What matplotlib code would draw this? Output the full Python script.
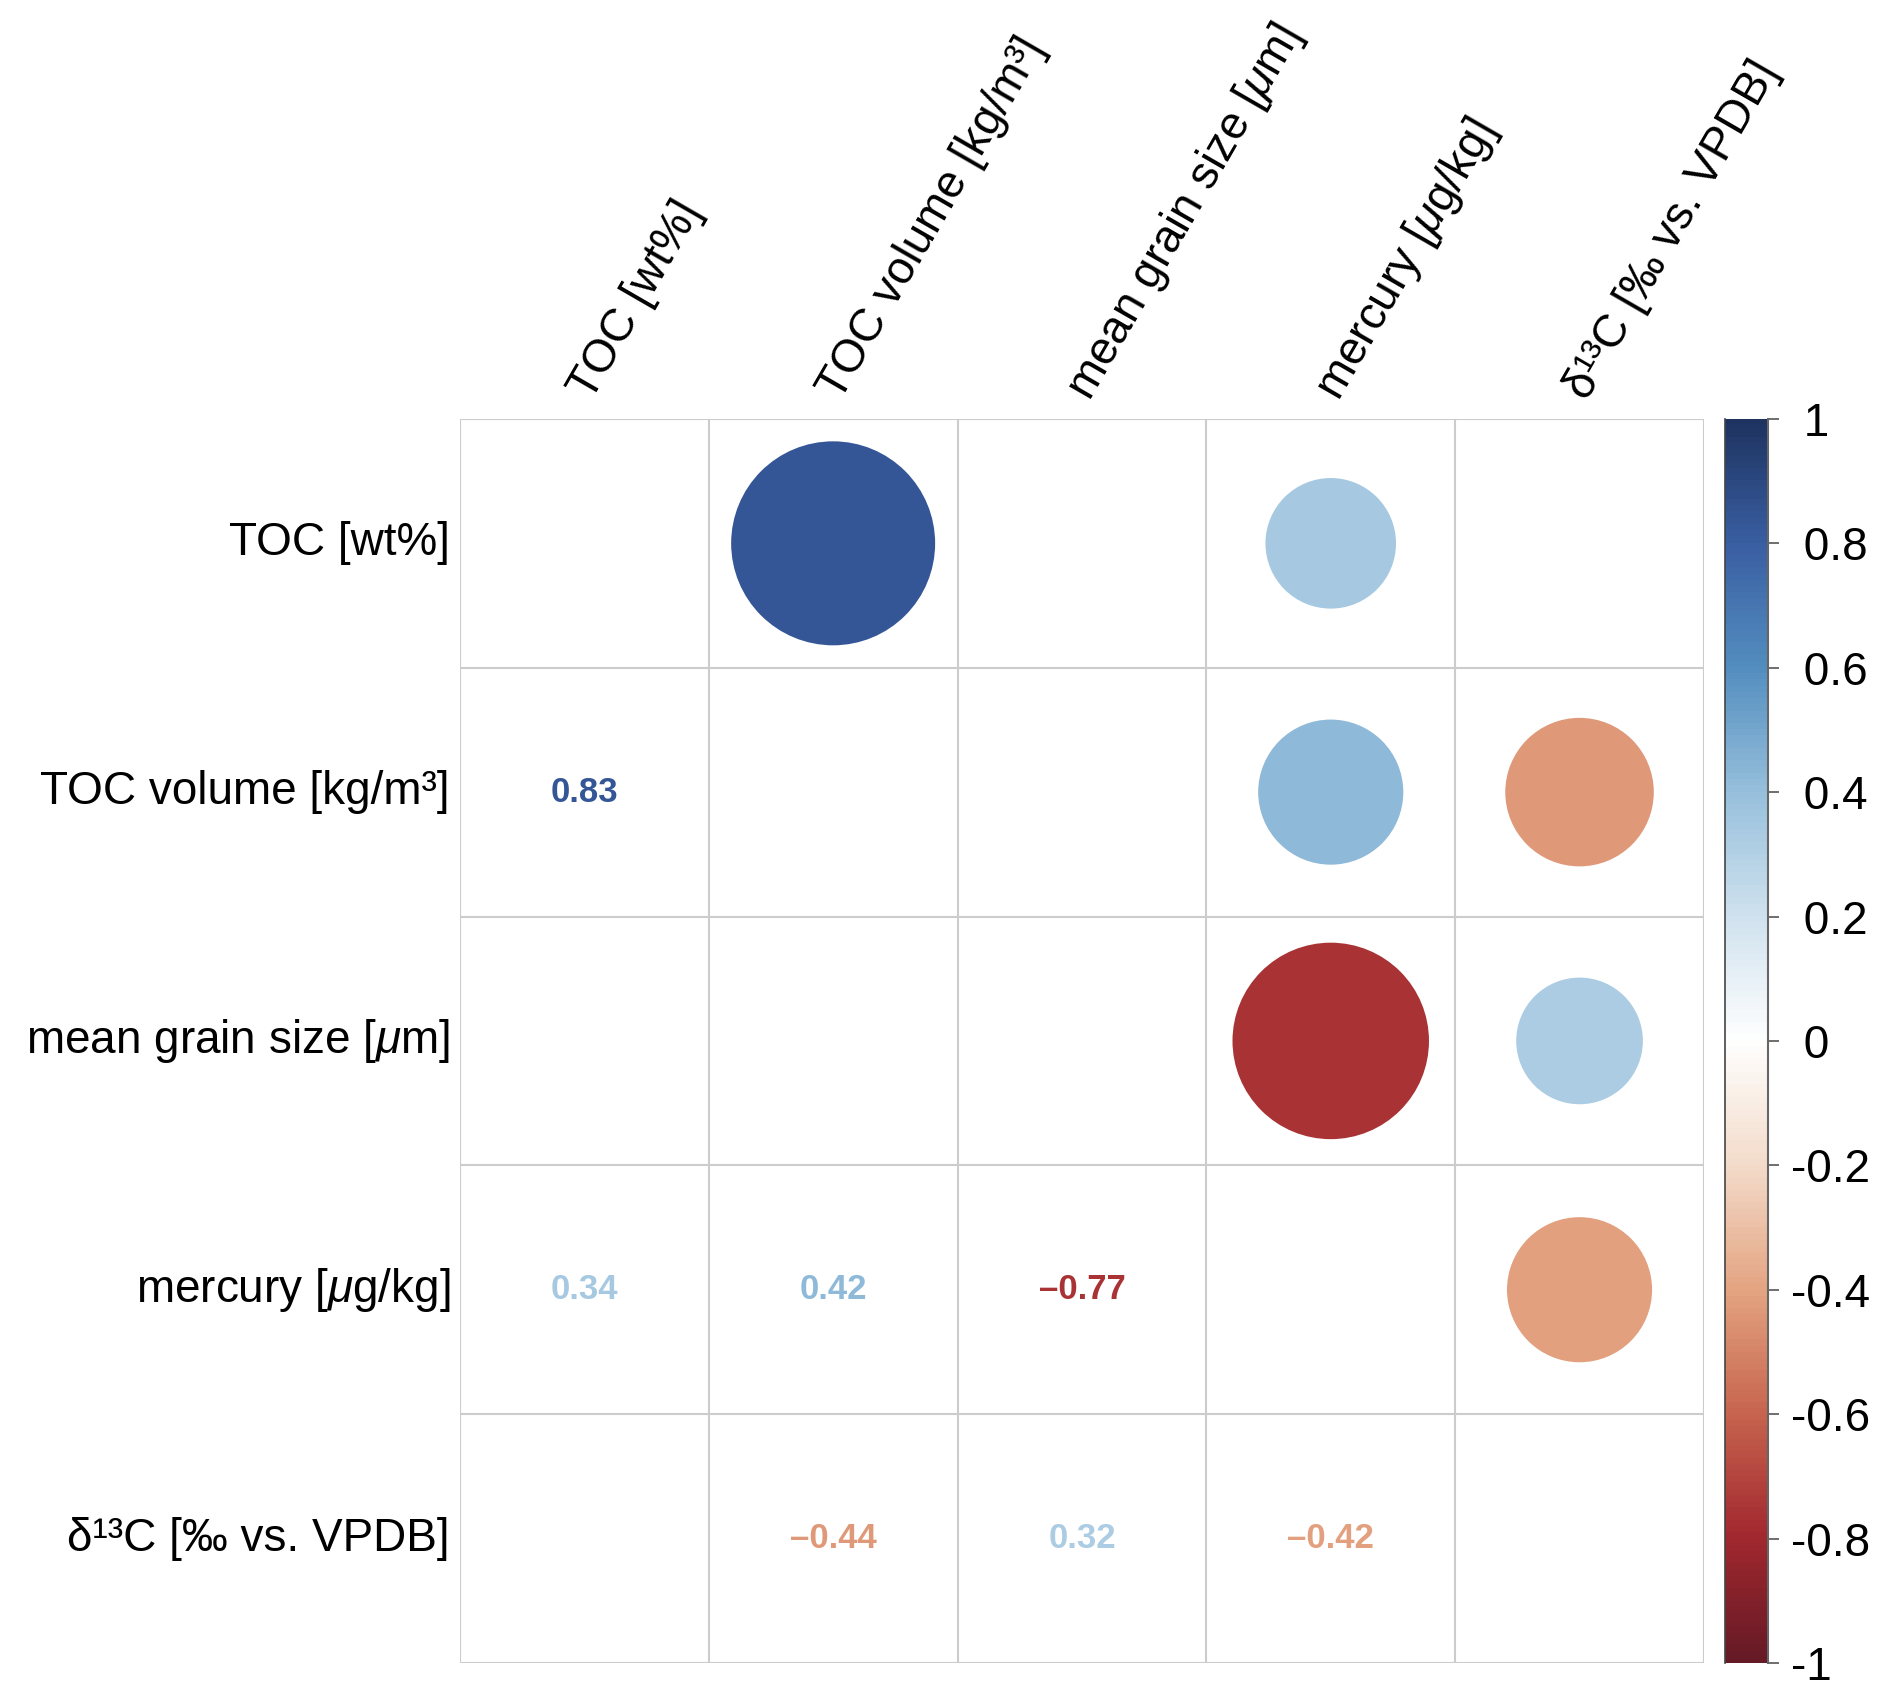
import matplotlib
matplotlib.use("Agg")
import matplotlib.pyplot as plt
from matplotlib.colors import LinearSegmentedColormap, Normalize
from matplotlib.patches import Circle
import numpy as np

plt.rcParams['font.family'] = ['Liberation Sans', 'DejaVu Sans']
plt.rcParams['mathtext.fontset'] = 'custom'
plt.rcParams['mathtext.rm'] = 'Liberation Sans'
plt.rcParams['mathtext.it'] = 'Liberation Sans:italic'

labels = ["TOC [wt%]", "TOC volume [kg/m³]", r"mean grain size [$\mu$m]",
          r"mercury [$\mu$g/kg]", "δ¹³C [‰ vs. VPDB]"]

# significant correlations only (others left blank)
pair_i = [0, 0, 1, 1, 2, 2, 3]
pair_j = [1, 3, 3, 4, 3, 4, 4]
pair_r = [0.83, 0.34, 0.42, -0.44, -0.77, 0.32, -0.42]

# RdBu as it appears in the reference (slightly muted)
pal = ["#651A26", "#A2282F", "#C8654F", "#E4A582", "#F4DCCB", "#FFFFFF",
       "#D0E2EF", "#97C0DC", "#548EC0", "#3A5FA3", "#1E3360"]
cmap = LinearSegmentedColormap.from_list("corr", pal, N=200)
norm = Normalize(-1, 1)

n = len(labels)
fig = plt.figure(figsize=(18.92, 16.96), dpi=100)
ax = fig.add_axes([0.2431, 0.0195, 0.6575, 0.7335])
ax.set_xlim(0, n)
ax.set_ylim(0, n)
ax.set_aspect("equal")
ax.axis("off")

grid_col = "#CCCCCC"
for k in range(n + 1):
    ax.plot([k, k], [0, n], color=grid_col, lw=1.5, zorder=1)
    ax.plot([0, n], [k, k], color=grid_col, lw=1.5, zorder=1)

for i, j, r in zip(pair_i, pair_j, pair_r):
    col = cmap(norm(r))
    # upper triangle: circle, radius like corrplot
    ax.add_patch(Circle((j + 0.5, n - i - 0.5), 0.9 * np.sqrt(abs(r)) / 2,
                        facecolor=col, edgecolor="none", zorder=2))
    # lower triangle: number
    txt = f"{r:.2f}".replace("-", "–")
    ax.text(i + 0.5, n - j - 0.5, txt, color=col, fontsize=25,
            fontweight="bold", ha="center", va="center")

for k, lab in enumerate(labels):
    ax.text(-0.04, n - k - 0.5, lab, fontsize=33, ha="right", va="center")
    ax.text(k + 0.53, n + 0.07, lab, fontsize=33, ha="left", va="baseline",
            rotation=60, rotation_mode="anchor")

cax = fig.add_axes([0.9117, 0.0195, 0.0227, 0.7335])
grad = np.linspace(-1, 1, 200).reshape(-1, 1)
cax.imshow(grad, aspect="auto", cmap=cmap, norm=norm, origin="lower",
           extent=[0, 1, -1, 1])
cax.set_xticks([])
ticks = [-1, -0.8, -0.6, -0.4, -0.2, 0, 0.2, 0.4, 0.6, 0.8, 1]
tick_labels = ["-1", "-0.8", "-0.6", "-0.4", "-0.2", " 0", " 0.2", " 0.4",
               " 0.6", " 0.8", " 1"]
cax.yaxis.tick_right()
cax.set_yticks(ticks)
cax.set_yticklabels(tick_labels, fontsize=33)
cax.tick_params(axis="y", length=8, width=1.2, color="#555555", pad=9)
for s in ["top", "bottom"]:
    cax.spines[s].set_visible(False)
cax.spines["right"].set_color("#666666")
cax.spines["right"].set_linewidth(1.5)
cax.spines["left"].set_color("#444444")
cax.spines["left"].set_linewidth(1.2)

plt.savefig("out.png", dpi=100)
plt.close()
